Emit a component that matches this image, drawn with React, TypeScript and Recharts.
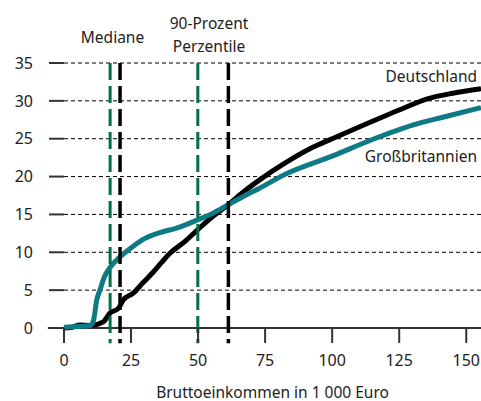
import React from 'react';
import { LineChart, Line, XAxis, YAxis, CartesianGrid, ReferenceLine, Customized } from 'recharts';

// Deutschland (black)
const deX = [0, 3, 6, 9.7, 14.6, 17.2, 20.3, 22.1, 25.8, 29.5, 33.3, 36.5, 39.6, 45, 49.9, 55, 61.3, 67, 73.1, 82.5, 92.4, 100, 115, 125, 135.8, 145, 155.5];
const deY = [0, 0.1, 0.4, 0.3, 0.8, 2, 2.6, 3.7, 4.6, 6, 7.4, 8.7, 9.9, 11.4, 13, 14.6, 16.3, 18, 19.6, 21.8, 23.8, 25, 27.3, 28.8, 30.3, 31, 31.6];

// Großbritannien (teal)
const gbX = [0, 5, 9.7, 11, 12.2, 13.4, 15, 17.2, 20.9, 25.8, 30, 35.8, 42, 49.9, 55.7, 61.3, 67, 73.1, 82.5, 100, 115, 130, 142, 155.5];
const gbY = [0.1, 0.2, 0.3, 1, 3.7, 5, 6.7, 8, 9.4, 10.8, 11.8, 12.6, 13.2, 14.3, 15.2, 16.3, 17.4, 18.5, 20.3, 22.7, 24.9, 26.8, 27.9, 29.1];

const xTicks = [0, 25, 50, 75, 100, 125, 150];
const yTicks = [0, 5, 10, 15, 20, 25, 30, 35];

const medianGB = 17.2;
const medianDE = 20.9;
const p90GB = 49.9;
const p90DE = 61.3;

const deData = deX.map((x, i) => ({ x, y: deY[i] }));
const gbData = gbX.map((x, i) => ({ x, y: gbY[i] }));

const FONT = '"Noto Sans", sans-serif';
const TXT = '#222';
const GREEN = '#00704c';
const TEAL = '#0e7a85';

const Labels = () => (
  <g fontFamily={FONT} fill={TXT} fontSize={15.5}>
    <text x={112.5} y={43} textAnchor="middle">Mediane</text>
    <text x={209} y={29} textAnchor="middle">90-Prozent</text>
    <text x={209} y={51.5} textAnchor="middle">Perzentile</text>
    <text x={477} y={81.5} textAnchor="end">Deutschland</text>
    <text x={477} y={161.5} textAnchor="end">Großbritannien</text>
  </g>
);

export default function App() {
  const tickStyle = { fill: TXT, fontSize: 16, fontFamily: FONT };
  return (
    <div style={{ position: 'absolute', left: 0, top: 0, background: '#fff' }}>
      <LineChart width={481} height={401} margin={{ top: 63, right: 0, bottom: 0, left: 0 }}>
        <CartesianGrid vertical={false} stroke="#000" strokeDasharray="4 3" strokeWidth={1} />
        <XAxis
          type="number"
          dataKey="x"
          domain={[0, 155.5]}
          ticks={xTicks}
          height={73}
          tickSize={15}
          tickMargin={12}
          axisLine={false}
          tickLine={{ stroke: '#333', strokeWidth: 2 }}
          tick={tickStyle}
          label={{ value: 'Bruttoeinkommen in 1 000 Euro', position: 'insideBottom', offset: 3, fill: TXT, fontSize: 15.5, fontFamily: FONT }}
        />
        <YAxis
          type="number"
          domain={[0, 35]}
          ticks={yTicks}
          width={64}
          tickSize={15}
          tickMargin={16}
          axisLine={false}
          tickLine={{ stroke: '#333', strokeWidth: 2 }}
          tick={tickStyle}
        />
        <ReferenceLine
          segment={[{ x: -6, y: 0 }, { x: 155.5, y: 0 }]}
          ifOverflow="visible"
          stroke="#333"
          strokeWidth={2}
        />
        <Line data={deData} dataKey="y" type="monotone" stroke="#000" strokeWidth={5} dot={false} activeDot={false} isAnimationActive={false} />
        <Line data={gbData} dataKey="y" type="monotone" stroke={TEAL} strokeWidth={5} dot={false} activeDot={false} isAnimationActive={false} />
        <ReferenceLine segment={[{ x: medianGB, y: 35 }, { x: medianGB, y: -2 }]} ifOverflow="visible" stroke={GREEN} strokeWidth={3} strokeDasharray="17 6" />
        <ReferenceLine segment={[{ x: medianDE, y: 35 }, { x: medianDE, y: -2 }]} ifOverflow="visible" stroke="#000" strokeWidth={3.5} strokeDasharray="17 6" />
        <ReferenceLine segment={[{ x: p90GB, y: 35 }, { x: p90GB, y: -2 }]} ifOverflow="visible" stroke={GREEN} strokeWidth={3} strokeDasharray="17 6" />
        <ReferenceLine segment={[{ x: p90DE, y: 35 }, { x: p90DE, y: -2 }]} ifOverflow="visible" stroke="#000" strokeWidth={3.5} strokeDasharray="17 6" />
        <Customized component={Labels} />
      </LineChart>
    </div>
  );
}
